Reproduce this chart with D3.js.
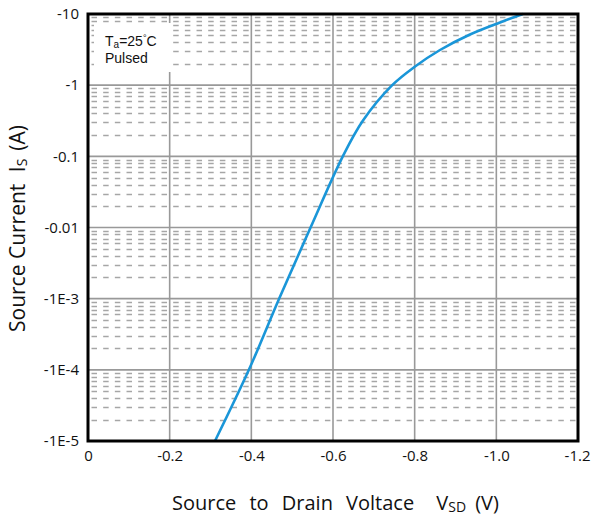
<!DOCTYPE html>
<html><head><meta charset="utf-8">
<script src="https://cdn.jsdelivr.net/npm/d3@7"></script>
<style>body{margin:0;background:#fff}svg{display:block}</style>
</head><body>
<script>
// Data
const vsd = [-0.311, -0.394, -0.468, -0.545, -0.624, -0.673, -0.745, -0.801, -0.862, -0.9355, -1.009, -1.065];
const isrc = [-1e-5, -1e-4, -1e-3, -1e-2, -0.1, -0.316, -1.0, -1.83, -3.12, -5.15, -7.6, -10];
const xTicks = [0, -0.2, -0.4, -0.6, -0.8, -1.0, -1.2];
const xTickLabels = ["0", "-0.2", "-0.4", "-0.6", "-0.8", "-1.0", "-1.2"];
const yTicks = [-10, -1, -0.1, -0.01, -1e-3, -1e-4, -1e-5];
const yTickLabels = ["-10", "-1", "-0.1", "-0.01", "-1E-3", "-1E-4", "-1E-5"];

const W = 592, H = 520;
const L = 88, R = 578, T = 14, B = 441;
const svg = d3.select("body").append("svg").attr("width", W).attr("height", H);
const x = d3.scaleLinear().domain([0, -1.2]).range([L, R]);
const y = d3.scaleLog().domain([-1e-5, -10]).range([B, T]);

// minor dashed gridlines
const minors = [];
for (let e = -5; e < 1; e++) for (let m = 2; m <= 9; m++) minors.push(-m * Math.pow(10, e));
svg.append("g").selectAll("line").data(minors).join("line")
  .attr("x1", L).attr("x2", R)
  .attr("y1", d => Math.round(y(d)) + 0.5).attr("y2", d => Math.round(y(d)) + 0.5)
  .attr("stroke", "#a6a6a6").attr("stroke-width", 1.6)
  .attr("stroke-dasharray", "5.5 6.17").attr("stroke-dashoffset", -3.5);

// major horizontal gridlines
svg.append("g").selectAll("line").data(yTicks).join("line")
  .attr("x1", L).attr("x2", R)
  .attr("y1", d => y(d)).attr("y2", d => y(d))
  .attr("stroke", "#999").attr("stroke-width", 1.6);
// vertical gridlines
svg.append("g").selectAll("line").data(xTicks.slice(1, -1)).join("line")
  .attr("x1", d => x(d)).attr("x2", d => x(d))
  .attr("y1", T).attr("y2", B)
  .attr("stroke", "#999").attr("stroke-width", 1.6);

// annotation box
svg.append("rect").attr("x", 94).attr("y", 23).attr("width", 78).attr("height", 49).attr("fill", "#fff");
const ann = svg.append("g").attr("font-family", "'Liberation Sans', Arial, sans-serif").attr("font-size", 14).attr("fill", "#111");
const t1 = ann.append("text").attr("x", 105).attr("y", 46);
t1.append("tspan").text("T");
t1.append("tspan").attr("font-size", 10).attr("dy", 2).text("a");
t1.append("tspan").attr("dy", -2).text("=25");
t1.append("tspan").attr("font-size", 9).attr("dy", -5).text("°");
t1.append("tspan").attr("dy", 5).text("C");
ann.append("text").attr("x", 105).attr("y", 63).text("Pulsed");

// curve
const pts = vsd.map((v, i) => [x(v), y(isrc[i])]);
svg.append("path").datum(pts)
  .attr("d", d3.line().curve(d3.curveCatmullRom.alpha(0.5)))
  .attr("fill", "none").attr("stroke", "#1a96d8").attr("stroke-width", 2.6);

// plot border
svg.append("rect").attr("x", L).attr("y", T).attr("width", R - L).attr("height", B - T)
  .attr("fill", "none").attr("stroke", "#000").attr("stroke-width", 3);

// axes (labels only)
const font = "'Open Sans', 'Segoe UI', sans-serif";
const yAxis = d3.axisLeft(y).tickValues(yTicks).tickFormat((d, i) => yTickLabels[i]).tickSize(0).tickPadding(8);
const gy = svg.append("g").attr("transform", `translate(${L - 1},0)`).call(yAxis);
gy.select(".domain").remove();
gy.selectAll("text").attr("font-family", font).attr("font-size", 15).attr("fill", "#111");

const xAxis = d3.axisBottom(x).tickValues(xTicks).tickFormat((d, i) => xTickLabels[i]).tickSize(0).tickPadding(8);
const gx = svg.append("g").attr("transform", `translate(0,${B + 1})`).call(xAxis);
gx.select(".domain").remove();
gx.selectAll("text").attr("font-family", font).attr("font-size", 15).attr("fill", "#111");
gx.selectAll("text").filter((d, i) => i === xTicks.length - 1).attr("text-anchor", "end").attr("x", 590 - x(-1.2));

// axis titles
const xt = svg.append("text").attr("x", 172).attr("y", 510).attr("font-family", font).attr("font-size", 20).attr("fill", "#111").attr("word-spacing", 8);
xt.append("tspan").text("Source to Drain Voltace ");
xt.append("tspan").attr("dx", 9).text("V");
xt.append("tspan").attr("font-size", 14).attr("dy", 2).text("SD");
xt.append("tspan").attr("dy", -2).attr("dx", 9).text("(V)");

const yt = svg.append("text").attr("transform", "translate(25,332) rotate(-90)").attr("font-family", font).attr("font-size", 21).attr("fill", "#111");
yt.append("tspan").text("Source Current ");
yt.append("tspan").attr("dx", 6).text("I");
yt.append("tspan").attr("font-size", 14).attr("dy", 2).text("S");
yt.append("tspan").attr("dy", -2).attr("dx", 8).text("(A)");
</script>
</body></html>
